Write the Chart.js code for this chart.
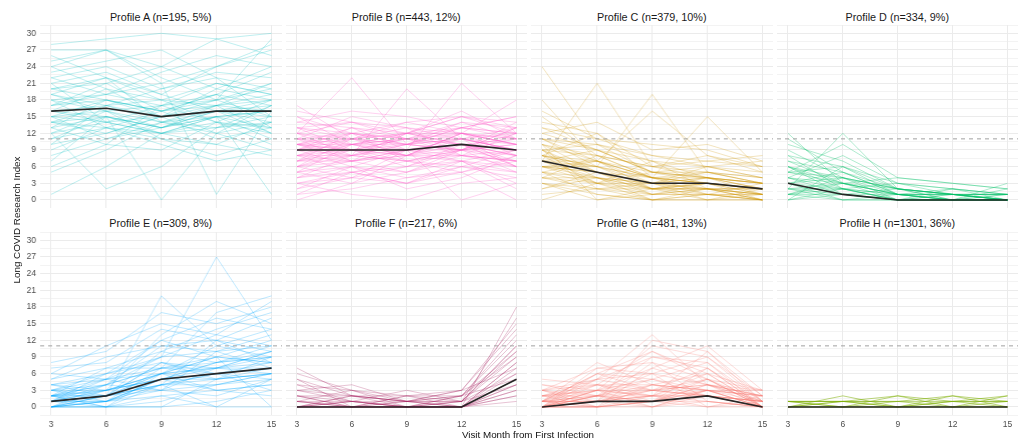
<!DOCTYPE html>
<html><head><meta charset="utf-8">
<script src="https://cdn.jsdelivr.net/npm/chart.js@4.4.0/dist/chart.umd.min.js"></script>
<style>
html,body{margin:0;padding:0;background:#fff;width:1024px;height:441px;overflow:hidden;font-family:"Liberation Sans",Arial,sans-serif;}
.box{position:absolute;}
.ptitle{position:absolute;font-size:10.8px;line-height:12px;color:#1a1a1a;text-align:center;white-space:nowrap;}
.axt{position:absolute;font-size:9.8px;line-height:12px;color:#111;white-space:nowrap;text-align:center;}
</style></head><body>
<script>
// ---------- data ----------
const months = [3, 6, 9, 12, 15];
const xTickLabels = [3, 6, 9, 12, 15];
const yTickLabels = [0, 3, 6, 9, 12, 15, 18, 21, 24, 27, 30];
const yGridLines = [-1.5, 0, 1.5, 3, 4.5, 6, 7.5, 9, 10.5, 12, 13.5, 15, 16.5, 18, 19.5, 21, 22.5, 24, 25.5, 27, 28.5, 30, 31.5];
const threshold = 11;
const profileTitles = ['Profile A (n=195, 5%)', 'Profile B (n=443, 12%)', 'Profile C (n=379, 10%)', 'Profile D (n=334, 9%)',
  'Profile E (n=309, 8%)', 'Profile F (n=217, 6%)', 'Profile G (n=481, 13%)', 'Profile H (n=1301, 36%)'];
const profileColors = ['#00BFC4', '#FF61CC', '#CD9600', '#00BE67', '#00A9FF', '#A3195B', '#F8766D', '#7CAE00'];
const lineAlpha = [0.38, 0.42, 0.38, 0.45, 0.38, 0.38, 0.38, 0.75];

const meanA = [16, 16.5, 15, 16, 16];
const meanB = [9, 9, 9, 10, 9];
const meanC = [7, 5, 3, 3, 2];
const meanD = [3, 1, 0, 0, 0];
const meanE = [1, 2, 5, 6, 7];
const meanF = [0, 0, 0, 0, 5];
const meanG = [0, 1, 1, 2, 0];
const meanH = [0, 0, 0, 0, 0];

const trajA = [
 [16,17,15,16,16],[20,22,18,21,19],[14,15,13,16,15],[12,14,12,13,14],[18,19,17,18,20],
 [22,24,20,23,22],[27,27,24,29,26],[28,29,30,29,30],[25,27,21,24,28],[10,12,15,11,13],
 [8,11,13,16,12],[5,9,14,12,17],[1,6,12,14,10],[15,18,16,12,9],[19,16,11,10,14],
 [21,14,17,19,23],[13,10,9,14,12],[17,21,24,20,18],[11,13,16,18,15],[24,20,18,17,21],
 [15,16,14,16,17],[16,15,13,15,16],[14,17,18,14,13],[20,18,15,20,24],[9,13,11,8,11],
 [23,25,27,22,20],[12,2,6,13,15],[18,13,10,7,9],[26,22,19,24,27],[13,15,0,12,14],
 [17,19,21,1,16],[16,14,12,15,1],[6,10,17,21,19],[19,22,14,17,12],[14,12,15,18,21],
 [21,23,19,16,18],[10,17,20,22,15],[15,11,14,13,17],[22,19,23,26,24],[18,16,13,15,11],
 [13,18,16,19,13],[7,15,12,10,8],[24,27,22,18,29],
 [17,18,16,17,18],[15,14,15,16,14],[19,17,14,15,16],[12,16,17,14,18],[20,21,16,19,17],
 [14,13,12,15,13],[16,20,15,17,19],[11,15,13,17,16]
];
const trajB = [
 [9,9,9,10,9],[8,10,8,11,9],[10,8,10,9,10],[7,9,11,12,8],[11,10,9,10,11],
 [12,11,10,13,12],[6,8,7,9,7],[5,7,8,10,6],[13,12,11,14,13],[9,11,12,10,8],
 [10,9,8,12,10],[8,7,9,11,9],[4,6,5,8,6],[3,5,7,6,4],[14,13,12,15,14],
 [15,12,10,11,13],[2,4,6,9,5],[0,3,5,7,2],[12,14,13,11,9],[11,9,7,8,12],
 [7,10,12,13,11],[6,4,9,7,3],[9,12,10,14,11],[10,13,9,8,7],[17,11,8,12,10],
 [13,9,6,10,8],[5,10,11,9,12],[8,5,3,6,9],[11,15,13,12,10],[1,2,4,5,0],
 [9,6,2,4,8],[12,22,10,9,13],[7,8,20,11,6],[10,11,9,21,12],[6,9,10,12,18],
 [14,16,15,13,15],[3,1,0,3,4],[8,9,8,7,9],[10,10,11,11,10],[4,8,12,10,7],
 [13,11,14,12,11],[2,6,9,0,3],[11,7,5,9,14],[9,13,11,10,6],[5,3,8,12,10],
 [15,10,12,16,11],[7,12,7,5,8],[12,8,10,9,13],[16,14,11,13,15],[6,11,13,8,9],
 [1,5,3,7,6],[10,7,12,15,12],
 [8,8,9,9,8],[9,10,10,11,9],[11,11,12,12,11],[7,7,8,8,7],[10,12,11,10,9],
 [12,10,8,9,11],[6,7,9,10,8],[9,8,7,9,10],[13,14,12,11,12],[4,5,6,7,5],
 [8,11,10,13,12],[10,9,11,8,7],[5,6,4,6,5],[11,12,14,15,13],[3,4,3,5,7]
];
const trajC = [
 [7,5,3,3,2],[8,6,4,3,2],[6,4,2,3,1],[10,7,5,4,3],[5,3,2,2,1],
 [9,8,6,5,4],[12,9,5,4,3],[4,2,1,1,0],[11,10,7,6,5],[3,1,0,0,0],
 [13,11,8,7,6],[7,9,5,6,4],[6,6,3,2,2],[2,4,3,5,3],[15,8,4,3,2],
 [8,3,0,1,0],[10,5,2,0,1],[14,12,6,8,5],[5,7,4,3,2],[9,4,1,2,0],
 [0,3,5,4,3],[24,10,5,3,2],[7,21,6,4,3],[8,6,19,5,4],[11,7,16,8,6],
 [6,5,4,15,5],[12,14,9,10,7],[4,8,6,7,8],[16,11,10,9,6],[3,0,2,4,1],
 [9,10,8,6,7],[1,2,0,1,0],[7,3,3,0,2],[10,0,1,2,1],[5,1,0,0,0],
 [13,9,7,4,2],[6,7,2,3,0],[8,12,4,1,3],[18,7,3,6,4],[2,5,1,3,2],
 [11,6,4,5,3],[4,3,7,2,1],[9,2,3,4,2],[7,4,0,2,0],
 [6,5,3,2,2],[8,7,4,4,3],[5,4,3,1,1],[7,6,2,3,1],[9,5,3,4,2],
 [10,8,4,2,2],[4,4,2,2,1],[6,3,1,1,0],[11,9,5,5,3],[3,2,2,1,1],
 [7,7,4,3,2],[8,5,2,2,0]
];
const trajD = [
 [3,1,0,0,0],[2,1,0,0,0],[4,2,0,0,0],[5,3,1,0,0],[1,0,0,0,0],
 [6,4,1,1,0],[7,5,2,1,1],[8,6,3,2,1],[9,4,2,0,1],[10,7,2,1,0],
 [11,5,1,0,0],[12,3,0,1,0],[2,3,1,0,0],[0,2,0,0,0],[3,0,0,0,0],
 [1,4,2,1,0],[0,6,1,0,0],[4,8,3,2,1],[5,10,4,3,2],[2,12,2,1,1],
 [6,2,0,0,0],[3,5,1,2,0],[1,1,1,1,1],[4,1,0,0,1],[7,3,1,0,2],
 [2,0,1,1,0],[8,2,3,1,0],[0,1,2,1,1],[5,6,2,0,3],[3,4,0,2,1],
 [1,3,4,3,2],[6,1,0,1,0],
 [2,2,0,0,0],[4,3,1,1,0],[1,2,1,0,0],[3,2,1,0,0],[5,4,2,1,1],[6,3,2,1,0]
];
const trajE = [
 [1,2,5,6,7],[0,1,4,5,6],[2,3,6,7,8],[1,2,3,4,5],[0,0,2,3,4],
 [3,4,7,8,9],[2,1,5,7,10],[0,2,8,6,7],[4,5,9,10,11],[1,3,6,9,12],
 [0,1,3,2,5],[2,0,4,6,3],[5,7,7,7,7],[3,2,10,8,9],[1,4,11,12,10],
 [0,0,1,4,6],[2,2,6,11,14],[6,5,12,9,8],[1,0,0,5,7],[0,3,5,3,2],
 [3,6,9,13,11],[7,8,14,12,16],[8,10,17,15,18],[1,2,20,11,9],[2,4,9,27,12],
 [4,3,13,19,15],[0,1,7,17,20],[5,9,11,10,13],[2,7,10,14,17],[3,1,4,0,0],
 [1,5,6,3,4],[0,0,0,1,3],[4,2,8,5,6],[2,3,5,8,11],[1,1,2,0,5],
 [6,11,15,13,19],[0,4,3,7,9],[3,5,7,6,5],[1,6,12,16,14],[2,0,6,9,0],
 [0,2,4,12,8],
 [1,3,5,6,8],[2,2,4,6,7],[0,2,6,7,6],[1,1,5,5,9],[3,3,6,5,6],
 [2,4,7,9,8],[0,1,5,8,10],[1,2,4,4,6],[4,6,8,7,10],[2,5,3,10,7]
];
const trajF = [
 [0,0,0,0,5],[0,0,0,0,3],[0,0,0,0,7],[0,0,0,0,2],[1,0,0,0,4],
 [2,1,0,0,6],[0,1,1,0,8],[3,2,1,1,9],[4,1,0,2,10],[5,2,1,1,11],
 [6,3,2,2,12],[7,2,1,3,14],[1,3,0,1,16],[2,0,2,0,18],[0,2,1,2,13],
 [3,1,0,0,3],[1,0,1,0,2],[0,1,0,1,4],[2,2,2,1,6],[0,0,1,3,7],
 [4,3,1,2,5],[1,1,0,0,1],[0,2,0,2,9],[2,0,0,1,11],[3,4,1,0,8],
 [1,0,2,3,15],[0,1,3,1,10],[5,0,0,0,4]
];
const trajG = [
 [0,1,1,2,0],[0,0,1,1,0],[1,2,2,3,1],[0,1,0,2,0],[2,3,3,4,2],
 [1,0,1,0,1],[0,2,4,3,0],[3,1,2,5,3],[0,3,5,2,1],[1,4,2,6,0],
 [2,5,6,4,2],[0,6,3,7,1],[3,7,8,5,0],[1,8,4,3,2],[0,2,9,8,0],
 [2,4,10,6,3],[4,3,11,9,1],[0,1,12,10,2],[1,5,13,4,0],[0,0,7,11,3],
 [3,2,0,1,0],[0,0,2,0,0],[1,1,3,2,1],[2,0,0,3,2],[0,4,1,5,0],
 [1,6,5,8,1],[0,3,7,4,3],[2,2,1,7,0],[3,5,3,2,1],[0,7,6,9,2],
 [1,0,4,6,0],[4,2,5,3,3],[0,1,8,1,0],[2,3,2,10,1],[1,2,6,0,2],
 [0,5,9,7,0],[3,0,1,4,1],[5,4,3,2,0],[0,3,0,3,2],[1,6,10,5,0],
 [0,1,2,2,0],[1,1,1,3,0],[0,2,3,4,1],[2,1,2,2,1],[0,0,1,3,0],
 [1,3,2,1,0],[0,2,1,4,2],[1,1,4,2,1],[3,4,4,3,0],[0,1,3,5,1]
];
const trajH = [
 [0,0,0,0,0],[1,1,1,1,1],[0,2,0,2,0],[1,1,2,1,2],[0,1,1,2,1],
 [1,0,1,0,1],[0,0,2,0,0],[1,1,0,1,0],[0,1,0,0,2],[1,0,0,1,1]
];

const allTraj = [trajA, trajB, trajC, trajD, trajE, trajF, trajG, trajH];
const allMeans = [meanA, meanB, meanC, meanD, meanE, meanF, meanG, meanH];

// ---------- layout ----------
const FONT = '"Liberation Sans", Arial, sans-serif';
const colLeft = [40, 285.5, 531, 776.5];
const panelW = 241.5;
const rowTop = [25, 231.7];
const panelH = 183.3;

function rgba(hex, a) {
  const n = parseInt(hex.slice(1), 16);
  return `rgba(${(n >> 16) & 255},${(n >> 8) & 255},${n & 255},${a})`;
}

const thresholdPlugin = {
  id: 'thr',
  afterDatasetsDraw(chart) {
    const { ctx, chartArea: a, scales: { y } } = chart;
    const py = y.getPixelForValue(threshold);
    ctx.save();
    ctx.strokeStyle = '#A0A0A0';
    ctx.lineWidth = 1;
    ctx.setLineDash([4, 4]);
    ctx.beginPath();
    ctx.moveTo(a.left, py);
    ctx.lineTo(a.right, py);
    ctx.stroke();
    ctx.restore();
  }
};

function makePanel(idx) {
  const col = idx % 4, row = Math.floor(idx / 4);
  const padL = col === 0 ? 40 : 0;
  const padB = row === 1 ? 22 : 0;
  const L = colLeft[col], T = rowTop[row];

  const div = document.createElement('div');
  div.className = 'box';
  div.style.left = (L - padL) + 'px';
  div.style.top = T + 'px';
  div.style.width = (panelW + padL) + 'px';
  div.style.height = (panelH + padB) + 'px';
  const cv = document.createElement('canvas');
  div.appendChild(cv);
  document.body.appendChild(div);

  const t = document.createElement('div');
  t.className = 'ptitle';
  t.style.left = L + 'px';
  t.style.width = panelW + 'px';
  t.style.top = (T - 14.5) + 'px';
  t.textContent = profileTitles[idx];
  document.body.appendChild(t);

  const color = profileColors[idx];
  const datasets = allTraj[idx].map(tr => ({
    data: months.map((m, i) => ({ x: m, y: tr[i] })),
    borderColor: rgba(color, lineAlpha[idx]),
    borderWidth: 0.7,
    pointRadius: 0,
    tension: 0,
    order: 1
  }));
  datasets.push({
    data: months.map((m, i) => ({ x: m, y: allMeans[idx][i] })),
    borderColor: '#262626',
    borderWidth: 1.6,
    pointRadius: 0,
    tension: 0,
    order: 0
  });

  new Chart(cv, {
    type: 'line',
    data: { datasets },
    plugins: [thresholdPlugin],
    options: {
      responsive: true,
      maintainAspectRatio: false,
      animation: false,
      events: [],
      layout: { padding: 0, autoPadding: false },
      plugins: { legend: { display: false }, tooltip: { enabled: false } },
      scales: {
        x: {
          type: 'linear', min: 2.4, max: 15.6,
          border: { display: false },
          grid: { color: '#EBEBEB', lineWidth: 1, drawTicks: false },
          afterBuildTicks: s => { s.ticks = xTickLabels.map(v => ({ value: v })); },
          afterFit: s => { s.height = padB; s.paddingLeft = 0; s.paddingRight = 0; },
          ticks: { display: row === 1, autoSkip: false, maxRotation: 0, padding: 4,
                   color: '#4D4D4D', font: { family: FONT, size: 8.5 } }
        },
        y: {
          type: 'linear', min: -1.5, max: 31.5,
          border: { display: false },
          grid: { color: '#EBEBEB', drawTicks: false,
                  lineWidth: c => (c.tick && c.tick.value % 3 === 0) ? 1 : 0.6 },
          afterBuildTicks: s => { s.ticks = yGridLines.map(v => ({ value: v })); },
          afterFit: s => { s.width = padL; s.paddingTop = 0; s.paddingBottom = 0; },
          ticks: { display: col === 0, autoSkip: false, padding: 4,
                   color: '#4D4D4D', font: { family: FONT, size: 8.5 },
                   callback: v => yTickLabels.includes(v) ? String(v) : '' }
        }
      }
    }
  });
}

for (let i = 0; i < 8; i++) makePanel(i);

const yt = document.createElement('div');
yt.className = 'axt';
yt.style.left = (17 - 70) + 'px';
yt.style.width = '140px';
yt.style.top = (220 - 6) + 'px';
yt.style.transform = 'rotate(-90deg)';
yt.textContent = 'Long COVID Research Index';
document.body.appendChild(yt);

const xt = document.createElement('div');
xt.className = 'axt';
xt.style.left = (528 - 100) + 'px';
xt.style.width = '200px';
xt.style.top = (435 - 6) + 'px';
xt.textContent = 'Visit Month from First Infection';
document.body.appendChild(xt);
</script>
</body></html>
